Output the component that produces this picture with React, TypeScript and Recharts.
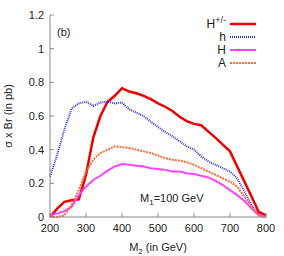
import { LineChart, Line, XAxis, YAxis, Label } from "recharts";

const M2 = [200, 220, 240, 260, 280, 300, 320, 340, 360, 380, 400, 420, 440, 460, 480, 500, 520, 540, 560, 580, 600, 620, 640, 660, 680, 700, 720, 740, 760, 780, 800];

const hCharged = [0, 0.05, 0.09, 0.1, 0.105, 0.25, 0.47, 0.6, 0.685, 0.72, 0.765, 0.745, 0.735, 0.72, 0.7, 0.675, 0.655, 0.63, 0.595, 0.57, 0.553, 0.545, 0.507, 0.47, 0.43, 0.39, 0.3, 0.21, 0.12, 0.03, 0.01];
const hLight = [0.24, 0.37, 0.52, 0.645, 0.675, 0.685, 0.66, 0.68, 0.685, 0.675, 0.68, 0.64, 0.62, 0.6, 0.565, 0.535, 0.505, 0.48, 0.45, 0.42, 0.4, 0.36, 0.33, 0.31, 0.29, 0.27, 0.23, 0.15, 0.07, 0.01, 0];
const hHeavy = [0.01, 0.02, 0.035, 0.06, 0.13, 0.18, 0.22, 0.245, 0.275, 0.3, 0.315, 0.31, 0.305, 0.3, 0.29, 0.285, 0.28, 0.27, 0.27, 0.26, 0.255, 0.245, 0.235, 0.215, 0.19, 0.16, 0.13, 0.095, 0.05, 0.01, 0];
const aOdd = [0, 0, 0.01, 0.07, 0.16, 0.27, 0.34, 0.38, 0.4, 0.42, 0.415, 0.41, 0.4, 0.39, 0.38, 0.365, 0.35, 0.34, 0.335, 0.325, 0.31, 0.29, 0.27, 0.25, 0.23, 0.21, 0.18, 0.12, 0.06, 0.01, 0];

const xTicks = [200, 300, 400, 500, 600, 700, 800];
const yTicks = [0, 0.2, 0.4, 0.6, 0.8, 1, 1.2];

const data = M2.map((m, i) => ({
  m,
  hc: hCharged[i],
  h: hLight[i],
  H: hHeavy[i],
  A: aOdd[i],
}));

const FONT = "'Liberation Sans', Arial, sans-serif";
const AXIS = "#888";

const SERIES = [
  { key: "hc", name: "H+/-", color: "#ee0000", width: 2.5, dash: undefined },
  { key: "h", name: "h", color: "#3333ee", width: 2, dash: "1 1" },
  { key: "H", name: "H", color: "#ff44ff", width: 2, dash: undefined },
  { key: "A", name: "A", color: "#ff6a33", width: 2, dash: "2 1" },
];

function LegendBox() {
  return (
    <div style={{ position: "absolute", right: 28, top: 18, fontFamily: FONT, fontSize: 12, color: "#222" }}>
      {SERIES.map((s) => (
        <div key={s.key} style={{ display: "flex", alignItems: "center", justifyContent: "flex-end", height: 12.8 }}>
          <span style={{ marginRight: 4, lineHeight: "12px" }}>
            {s.key === "hc" ? (
              <>
                H<sup style={{ fontSize: 9, lineHeight: 0 }}>+/-</sup>
              </>
            ) : (
              s.name
            )}
          </span>
          <svg width={26} height={6}>
            <line x1={0} y1={3} x2={26} y2={3} stroke={s.color} strokeWidth={s.width} strokeDasharray={s.dash} />
          </svg>
        </div>
      ))}
    </div>
  );
}

export default function App() {
  const blank = () => <g />;
  return (
    <div style={{ position: "absolute", left: 0, top: 0, width: 284, height: 256, background: "#fff" }}>
      <LineChart width={284} height={256} data={data} margin={{ top: 15, right: 18, left: 0, bottom: 0 }}>
        <XAxis
          dataKey="m"
          type="number"
          domain={[200, 800]}
          ticks={xTicks}
          stroke={AXIS}
          height={39}
          tickSize={-4}
          tickMargin={11}
          tick={{ fontSize: 11, fill: "#222", fontFamily: FONT }}
        >
          <Label
            content={(props: any) => {
              const vb = props.viewBox;
              return (
                <text x={vb.x + vb.width / 2} y={vb.y + 34} textAnchor="middle" fontSize={11} fontFamily={FONT} fill="#222">
                  M<tspan fontSize={8} dy={3}>2</tspan>
                  <tspan dy={-3}> (in GeV)</tspan>
                </text>
              );
            }}
          />
        </XAxis>
        <XAxis xAxisId="top" dataKey="m" type="number" domain={[200, 800]} ticks={xTicks} orientation="top" height={0} stroke={AXIS} tickSize={-4} tick={blank} />
        <YAxis
          type="number"
          domain={[0, 1.2]}
          ticks={yTicks}
          stroke={AXIS}
          width={50}
          tickSize={-4}
          tickMargin={10}
          tick={{ fontSize: 11, fill: "#222", fontFamily: FONT }}
        >
          <Label
            content={(props: any) => {
              const vb = props.viewBox;
              const cy = vb.y + vb.height / 2;
              return (
                <text x={12} y={cy} transform={`rotate(-90 12 ${cy})`} textAnchor="middle" fontSize={11} fontFamily={FONT} fill="#222">
                  σ x Br (in pb)
                </text>
              );
            }}
          />
        </YAxis>
        <YAxis yAxisId="right" type="number" domain={[0, 1.2]} ticks={yTicks} orientation="right" width={0} stroke={AXIS} tickSize={-4} tick={blank} />
        {SERIES.map((s) => (
          <Line
            key={s.key}
            dataKey={s.key}
            name={s.name}
            type="linear"
            stroke={s.color}
            strokeWidth={s.width}
            strokeDasharray={s.dash}
            dot={false}
            activeDot={false}
            isAnimationActive={false}
          />
        ))}
      </LineChart>
      <LegendBox />
      <div style={{ position: "absolute", left: 57, top: 26, fontFamily: FONT, fontSize: 11, color: "#222" }}>(b)</div>
      <div style={{ position: "absolute", left: 140, top: 192, fontFamily: FONT, fontSize: 11, color: "#222" }}>
        M<sub style={{ fontSize: 8 }}>1</sub>=100 GeV
      </div>
    </div>
  );
}
